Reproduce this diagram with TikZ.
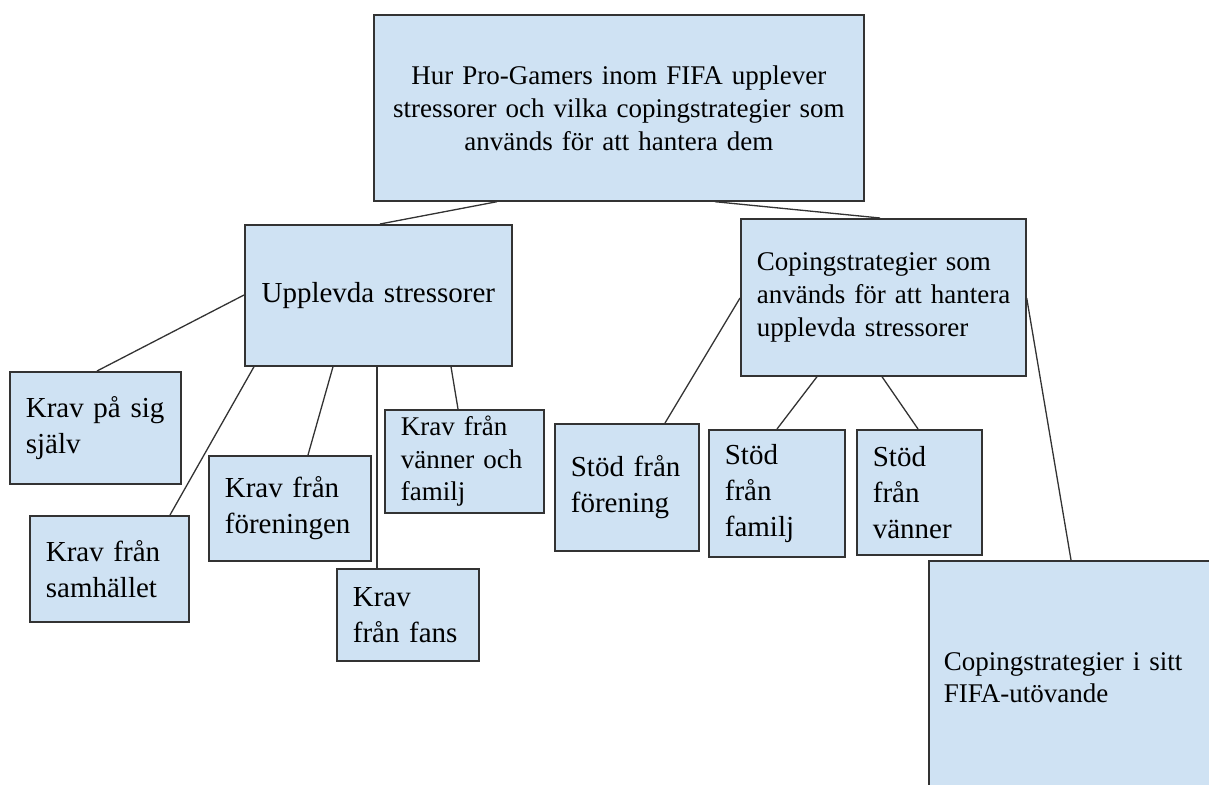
\documentclass[tikz,border=0pt]{standalone}
\usepackage{fontspec}
\setmainfont{Liberation Serif}
\definecolor{boxblue}{HTML}{CFE2F3}
\definecolor{boxline}{HTML}{333333}

\begin{document}
\begin{tikzpicture}[x=1pt,y=-1pt,
  main node/.style={rectangle,draw=boxline,fill=boxblue,line width=1.7pt,anchor=north west,
    inner xsep=16pt,inner ysep=0pt,align=left,font=\fontsize{29}{36}\selectfont},
  small node/.style={main node,font=\fontsize{27}{33}\selectfont},
  link/.style={draw=black!80,line width=1.3pt}]

  \useasboundingbox (0,0) rectangle (1209,784);
  \clip (0,0) rectangle (1209,784);

  \node[small node,align=center,text width=458pt,minimum height=186pt] (top) at (373,14) {Hur Pro-Gamers inom FIFA upplever\\ stressorer och vilka copingstrategier som\\ används för att hantera dem};
  \node[main node,align=center,text width=235pt,minimum height=141pt] (up) at (244,224) {Upplevda stressorer};
  \node[small node,text width=253pt,minimum height=157pt] (cope) at (740,218) {\mbox{Copingstrategier som}\\ \mbox{används för att hantera}\\ \mbox{upplevda stressorer}};

  \node[main node,text width=139pt,minimum height=112pt] (self) at (9,371) {Krav på sig\\ själv};
  \node[main node,text width=127pt,minimum height=106pt] (society) at (29,515) {Krav från\\ samhället};
  \node[main node,text width=130pt,minimum height=105pt] (club) at (208,455) {Krav från\\ föreningen};
  \node[main node,text width=110pt,minimum height=92pt] (fans) at (336,568) {Krav\\ från fans};
  \node[small node,font=\fontsize{27}{32.5}\selectfont,text width=127pt,minimum height=103pt] (friends) at (384,409) {Krav från\\ vänner och\\ familj};

  \node[main node,text width=112pt,minimum height=127pt] (sclub) at (554,423) {Stöd från\\ förening};
  \node[main node,text width=104pt,minimum height=127pt] (sfamily) at (708,429) {Stöd\\ från\\ familj};
  \node[main node,text width=93pt,minimum height=125pt] (sfriends) at (856,429) {Stöd\\ från\\ vänner};
  \node[small node,font=\fontsize{27}{32}\selectfont,inner xsep=15pt,text width=262pt,minimum height=234pt] (game) at (928,560) {Copingstrategier i sitt\\ FIFA-utövande};

  \path[link]
    ([xshift=124pt]top.south west) edge ([xshift=136pt]up.north west)
    ([xshift=342pt]top.south west) edge ([xshift=140pt]cope.north west)
    ([yshift=-71pt]up.north west) edge ([xshift=88pt]self.north west)
    ([xshift=10pt]up.south west) edge ([xshift=141pt]society.north west)
    ([xshift=89pt]up.south west) edge ([xshift=100pt]club.north west)
    ([xshift=133pt]up.south west) edge ([xshift=41pt]fans.north west)
    ([xshift=207pt]up.south west) edge ([xshift=74pt]friends.north west)
    ([yshift=-80pt]cope.north west) edge ([xshift=111pt]sclub.north west)
    ([xshift=77pt]cope.south west) edge ([xshift=69pt]sfamily.north west)
    ([xshift=142pt]cope.south west) edge ([xshift=62pt]sfriends.north west)
    ([yshift=-80pt]cope.north east) edge ([xshift=143pt]game.north west);

\end{tikzpicture}
\end{document}
